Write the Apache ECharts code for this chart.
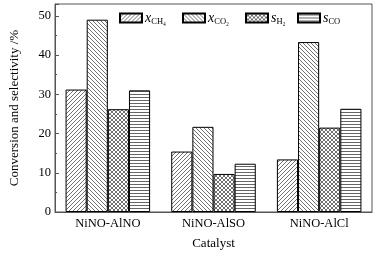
<!DOCTYPE html>
<html><head><meta charset="utf-8">
<script src="https://cdn.jsdelivr.net/npm/echarts@6/dist/echarts.min.js"></script>
<style>html,body{margin:0;padding:0;background:#fff}#c{width:391px;height:254px}</style>
</head><body><div id="c"></div>
<script>
const categories = ['NiNO-AlNO', 'NiNO-AlSO', 'NiNO-AlCl'];
const xCH4 = [31.2, 15.4, 13.4];
const xCO2 = [49.0, 21.7, 43.3];
const sH2 = [26.2, 9.7, 21.5];
const sCO = [31.0, 12.3, 26.3];
const yTicks = [0, 10, 20, 30, 40, 50];
const seriesNames = ['xCH4', 'xCO2', 'sH2', 'sCO'];
const legendLabels = {
  xCH4: '{i|x}{s|CH₄}',
  xCO2: '{i|x}{s|CO₂}',
  sH2: '{i|s}{s|H₂}',
  sCO: '{i|s}{s|CO}'
};
const legendLeft = [119, 182, 245, 297];

function pattern(kind) {
  const n = kind === 'horiz' ? 3 : 4;
  const c = document.createElement('canvas');
  c.width = n; c.height = n;
  const g = c.getContext('2d');
  g.fillStyle = '#fff'; g.fillRect(0, 0, n, n);
  g.strokeStyle = '#333'; g.lineWidth = 0.7;
  function fwd() {
    g.beginPath();
    g.moveTo(-1, 1); g.lineTo(1, -1);
    g.moveTo(0, n); g.lineTo(n, 0);
    g.moveTo(n - 1, n + 1); g.lineTo(n + 1, n - 1);
    g.stroke();
  }
  function back() {
    g.beginPath();
    g.moveTo(-1, n - 1); g.lineTo(1, n + 1);
    g.moveTo(0, 0); g.lineTo(n, n);
    g.moveTo(n - 1, -1); g.lineTo(n + 1, 1);
    g.stroke();
  }
  if (kind === 'fwd') fwd();
  else if (kind === 'back') back();
  else if (kind === 'cross') { fwd(); back(); }
  else if (kind === 'horiz') {
    g.strokeStyle = '#666'; g.lineWidth = 1;
    g.beginPath(); g.moveTo(0, 1.5); g.lineTo(n, 1.5); g.stroke();
  }
  return { image: c, repeat: 'repeat' };
}
const pats = [pattern('fwd'), pattern('back'), pattern('cross'), pattern('horiz')];
const datas = [xCH4, xCO2, sH2, sCO];

const font = 'Liberation Serif';
const chart = echarts.init(document.getElementById('c'), null, { renderer: 'canvas' });
chart.setOption({
  animation: false,
  backgroundColor: '#fff',
  textStyle: { fontFamily: font, color: '#000' },
  grid: { left: 55, right: 19, top: 4, bottom: 42, outerBoundsMode: 'none', containLabel: false,
          show: true, borderColor: '#555', borderWidth: 1, backgroundColor: 'transparent' },
  legend: seriesNames.map((name, i) => ({
    left: legendLeft[i], top: 11, padding: 0,
    itemWidth: 22, itemHeight: 9, itemGap: 0,
    icon: 'rect',
    data: [name],
    formatter: n => legendLabels[n],
    textStyle: {
      fontFamily: font, color: '#000', padding: [0, 0, 0, -2],
      rich: {
        i: { fontFamily: font, fontStyle: 'italic', fontSize: 14, color: '#000' },
        s: { fontFamily: font, fontSize: 8.5, color: '#000', padding: [7, 0, 0, 0] }
      }
    }
  })),
  xAxis: {
    type: 'category', data: categories,
    axisLine: { lineStyle: { color: '#555', width: 1 } },
    axisTick: { show: false },
    axisLabel: { fontFamily: font, fontSize: 12.5, color: '#000', margin: 5 },
    name: 'Catalyst', nameLocation: 'middle', nameGap: 25,
    nameTextStyle: { fontFamily: font, fontSize: 13, color: '#000' }
  },
  yAxis: {
    type: 'value', min: 0, max: 53, interval: 10,
    axisLine: { show: true, lineStyle: { color: '#555', width: 1 } },
    axisTick: { show: true, inside: true, length: 4, lineStyle: { color: '#555' } },
    minorTick: { show: true, splitNumber: 2, length: 2, lineStyle: { color: '#555' } },
    splitLine: { show: false },
    axisLabel: {
      fontFamily: font, fontSize: 12.5, color: '#000', margin: 4,
      formatter: v => (yTicks.indexOf(v) >= 0 ? String(v) : '')
    },
    name: 'Conversion and selectivity /%', nameLocation: 'middle', nameGap: 34,
    nameTextStyle: { fontFamily: font, fontSize: 13, color: '#000' }
  },
  series: seriesNames.map((name, i) => ({
    name, type: 'bar', data: datas[i],
    barGap: '0%', barCategoryGap: '20%',
    itemStyle: { color: pats[i], borderColor: '#000', borderWidth: 1 }
  }))
});
</script></body></html>
